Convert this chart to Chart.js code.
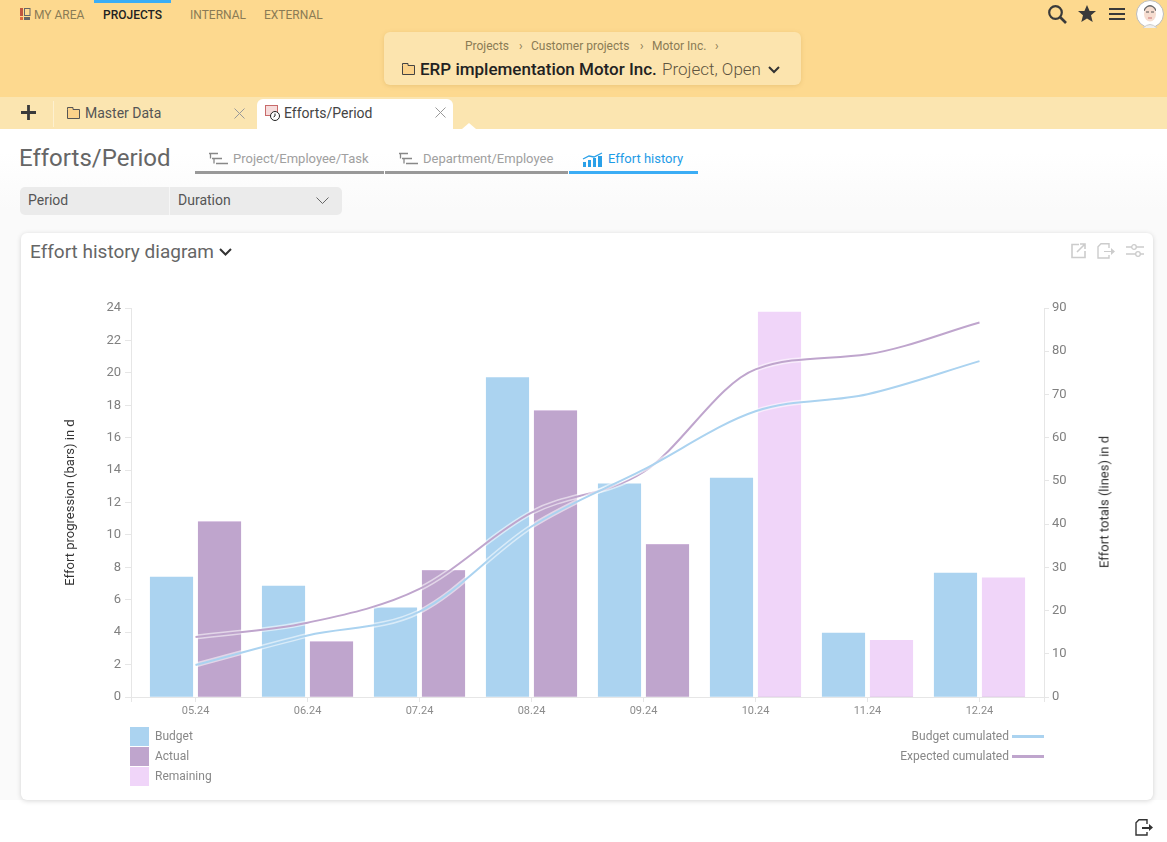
<!DOCTYPE html>
<html><head><meta charset="utf-8"><title>Effort history diagram</title>
<script src="https://cdn.jsdelivr.net/npm/chart.js@4"></script>
<style>
html,body{margin:0;padding:0;width:1167px;height:842px;overflow:hidden;background:#fff;font-family:Roboto,sans-serif}
.a{position:absolute;white-space:nowrap;line-height:1}
svg.a{overflow:visible}
</style></head><body>
<div class="a" style="left:0;top:0;width:1167px;height:97px;background:#fdd98f"></div>
<div class="a" style="left:94px;top:0;width:77px;height:3px;background:#3badf5"></div>
<svg class="a" style="left:20px;top:8px" width="11" height="12"><rect x="0" y="0" width="3" height="8" fill="#c0563f"/><rect x="0" y="9" width="3" height="3" fill="#e06a3c"/><rect x="4.5" y="0.5" width="5.5" height="7" fill="none" stroke="#666"/><rect x="4" y="9" width="6" height="3" fill="#666"/></svg>
<div class="a" style="left:34px;top:9px;font-size:12px;color:#8a7b55">MY AREA</div>
<div class="a" style="left:103px;top:9px;font-size:12px;font-weight:500;color:#222">PROJECTS</div>
<div class="a" style="left:190px;top:9px;font-size:12px;color:#8a7b55">INTERNAL</div>
<div class="a" style="left:264px;top:9px;font-size:12px;color:#8a7b55">EXTERNAL</div>
<svg class="a" style="left:1048px;top:5px" width="19" height="19"><circle cx="7.5" cy="7.5" r="6.3" fill="none" stroke="#3a3a3a" stroke-width="2.2"/><path d="M12 12l6 6" stroke="#3a3a3a" stroke-width="2.6"/></svg>
<svg class="a" style="left:1078px;top:5px" width="18" height="18"><path d="M9 0l2.6 6H18l-5 4.3 1.7 6.7L9 13.4 3.300 17 5 10.300 0 6h6.400z" fill="#3a3a3a"/></svg>
<svg class="a" style="left:1109px;top:7px" width="16" height="14"><path d="M0 2h16M0 7h16M0 12h16" stroke="#3a3a3a" stroke-width="2.200"/></svg>
<svg class="a" style="left:1136px;top:0" width="28" height="28"><circle cx="14" cy="14" r="13.500" fill="#fff" stroke="#bbb"/><path d="M8 9q6-8 12 0v2H8z" fill="#6a6a6a"/><ellipse cx="14" cy="14" rx="6" ry="7.500" fill="#f6ddd0"/><path d="M10 12h3M15 12h3" stroke="#555"/><path d="M12 18h4" stroke="#c77"/><path d="M7 28q7-7 14 0" fill="#eee" stroke="#ccc"/></svg>

<div class="a" style="left:384px;top:32px;width:417px;height:53px;background:#fce4ae;border-radius:6px;box-shadow:0 1px 4px rgba(180,140,60,.25)"></div>
<div class="a" style="left:465px;top:40px;font-size:12px;color:#8a7b55">Projects</div>
<div class="a" style="left:519px;top:40px;font-size:12px;color:#8a7b55">›</div>
<div class="a" style="left:531px;top:40px;font-size:12px;color:#8a7b55">Customer projects</div>
<div class="a" style="left:640px;top:40px;font-size:12px;color:#8a7b55">›</div>
<div class="a" style="left:652px;top:40px;font-size:12px;color:#8a7b55">Motor Inc.</div>
<div class="a" style="left:715px;top:40px;font-size:12px;color:#8a7b55">›</div>
<svg class="a" style="left:402px;top:63px" width="13" height="12"><path d="M.5 2.500V11.500H12.500V2.500H6V.500H.5z" fill="#fbd28a" stroke="#444"/></svg>
<div class="a" style="left:420px;top:61px;font-size:17px;font-weight:500;color:#222">ERP implementation Motor Inc.</div>
<div class="a" style="left:662px;top:61px;font-size:17px;font-weight:300;color:#5f5540">Project, Open</div>
<svg class="a" style="left:768px;top:66px" width="12" height="8"><path d="M1 1l5 5 5-5" fill="none" stroke="#333" stroke-width="2"/></svg>

<div class="a" style="left:0;top:97px;width:1167px;height:32px;background:#fbe5b0"></div>
<svg class="a" style="left:21px;top:105px" width="15" height="15"><path d="M7.500 0v15M0 7.500h15" stroke="#3a3a3a" stroke-width="2.800"/></svg>
<div class="a" style="left:53px;top:101px;width:1px;height:26px;background:#fdf0cf"></div>
<svg class="a" style="left:67px;top:107px" width="13" height="12"><path d="M.5 2.500V11.500H12.500V2.500H6V.500H.5z" fill="#fbd28a" stroke="#555"/></svg>
<div class="a" style="left:85px;top:106px;font-size:14px;color:#555">Master Data</div>
<svg class="a" style="left:234px;top:108px" width="11" height="11"><path d="M.5.500l10 10M10.500.500l-10 10" stroke="#999"/></svg>
<div class="a" style="left:257px;top:99px;width:196px;height:30px;background:#fff;border-radius:6px 6px 0 0"></div>
<svg class="a" style="left:265px;top:105px" width="17" height="17"><rect x=".5" y=".5" width="12" height="10" fill="#f6dcdc" stroke="#c86a6a"/><circle cx="10" cy="11" r="4.500" fill="#fff" stroke="#222"/><path d="M10 8.500V11l-1.500 1" stroke="#222" fill="none"/></svg>
<div class="a" style="left:284px;top:106px;font-size:14px;color:#444">Efforts/Period</div>
<svg class="a" style="left:435px;top:107px" width="11" height="11"><path d="M.5.500l10 10M10.500.500l-10 10" stroke="#999"/></svg>
<svg class="a" style="left:462px;top:123px" width="14" height="6"><path d="M0 6l7-6 7 6z" fill="#fff"/></svg>

<div class="a" style="left:0;top:129px;width:1167px;height:80px;background:linear-gradient(#fff 30%,#fafafa)"></div>
<div class="a" style="left:0;top:209px;width:1167px;height:591px;background:#fafafa"></div>
<div class="a" style="left:19px;top:146px;font-size:24px;color:#666">Efforts/Period</div>
<svg class="a" style="left:209px;top:152px" width="19" height="14"><path d="M0 1.500h9M3 6.500h10M7 11.500h12M1.500 1.500v5M5 6.500v5" stroke="#888" stroke-width="1.300" fill="none"/></svg>
<div class="a" style="left:233px;top:152px;font-size:13px;color:#a0a0a0">Project/Employee/Task</div>
<div class="a" style="left:195px;top:171px;width:189px;height:3px;background:#999"></div>
<svg class="a" style="left:399px;top:152px" width="19" height="14"><path d="M0 1.500h9M3 6.500h10M7 11.500h12M1.500 1.500v5M5 6.500v5" stroke="#888" stroke-width="1.300" fill="none"/></svg>
<div class="a" style="left:423px;top:152px;font-size:13px;color:#a0a0a0">Department/Employee</div>
<div class="a" style="left:385px;top:171px;width:183px;height:3px;background:#999"></div>
<svg class="a" style="left:582px;top:152px" width="22" height="15"><path d="M1 15v-5h3v5zM6 15V8h3v7zM11 15V6h3v9zM16 15V4h4v11z" fill="#2aa0e8"/><path d="M1 7l6-3 5 1 8-4" stroke="#2aa0e8" fill="none" stroke-width="1.300"/></svg>
<div class="a" style="left:608px;top:152px;font-size:13px;color:#1e9be6">Effort history</div>
<div class="a" style="left:569px;top:171px;width:129px;height:3px;background:#3badf5"></div>

<div class="a" style="left:20px;top:187px;width:322px;height:28px;background:#ebebeb;border-radius:5px"></div>
<div class="a" style="left:169px;top:187px;width:1px;height:28px;background:#f6f6f6"></div>
<div class="a" style="left:28px;top:193px;font-size:14px;color:#555">Period</div>
<div class="a" style="left:178px;top:193px;font-size:14px;color:#555">Duration</div>
<svg class="a" style="left:316px;top:197px" width="13" height="8"><path d="M.5.500l6 6 6-6" fill="none" stroke="#666"/></svg>

<div class="a" style="left:21px;top:233px;width:1132px;height:567px;background:#fff;border-radius:6px;box-shadow:0 1px 5px rgba(0,0,0,.16)"></div>
<div class="a" style="left:30px;top:242px;font-size:19px;color:#666">Effort history diagram</div>
<svg class="a" style="left:219px;top:248px" width="13" height="8"><path d="M1 1l5.500 5.500L12 1" fill="none" stroke="#333" stroke-width="2"/></svg>
<svg class="a" style="left:1071px;top:243px" width="15" height="15"><path d="M8 1.500H1v13h13V8M6 9l8-8M9 1h5v5" fill="none" stroke="#ccc" stroke-width="1.600"/></svg>
<svg class="a" style="left:1097px;top:243px" width="18" height="16"><path d="M12 5V.800H4L1 3.800V15h11v-3" fill="none" stroke="#ccc" stroke-width="1.400"/><path d="M7 8h7V5l4 3.500-4 3.500V9H7z" fill="#ccc"/></svg>
<svg class="a" style="left:1126px;top:243px" width="18" height="15"><path d="M0 4h6M10 4h8M0 11h10M14 11h4" stroke="#ccc" stroke-width="1.400"/><circle cx="8" cy="4" r="2.300" fill="none" stroke="#ccc" stroke-width="1.300"/><circle cx="12" cy="11" r="2.300" fill="none" stroke="#ccc" stroke-width="1.300"/></svg>
<svg class="a" style="left:1135px;top:819px" width="18" height="17"><path d="M12 5V.800H4L1 3.800V16h11v-3" fill="none" stroke="#333" stroke-width="1.400"/><path d="M7 8h7V5l4 3.500-4 3.500V10H7z" fill="#333"/></svg>

<canvas id="c" class="a" style="left:21px;top:271px" width="1132" height="460"></canvas>
<div class="a" style="left:1104px;top:502px;font-size:13px;color:#333;transform:translate(-50%,-50%) rotate(-90deg)">Effort totals (lines) in d</div>
<div id="legend"></div>
<script>
const categories=["05.24","06.24","07.24","08.24","09.24","10.24","11.24","12.24"];
const budget=[7.4,6.85,5.5,19.7,13.15,13.5,3.95,7.65];
const actual=[10.8,3.4,7.8,17.65,9.4,0,0,0];
const remaining=[0,0,0,0,0,23.75,3.5,7.35];
const budgetCumulated=[7.4,14.25,19.75,39.45,52.6,66.1,70.05,77.7];
const expectedCumulated=[13.9,17.2,25,42.65,52.05,75.8,79.3,86.65];
const leftTicks=[0,2,4,6,8,10,12,14,16,18,20,22,24];
const rightTicks=[0,10,20,30,40,50,60,70,80,90];
const colBudget="#abd3f0",colActual="#bfa5cd",colRemaining="#f0d5f9";
const barLegend=[["Budget",colBudget],["Actual",colActual],["Remaining",colRemaining]];
const lineLegend=[["Budget cumulated",colBudget],["Expected cumulated",colActual]];

const pts=a=>a.map((v,i)=>({x:i,y:v}));
const barBase={type:"bar",yAxisID:"y",order:2,barThickness:48,maxBarThickness:42.5,borderWidth:0};
const lineBase={type:"line",yAxisID:"y1",order:1,borderWidth:2,pointRadius:0,cubicInterpolationMode:"monotone",fill:false};
const halo={id:"halo",beforeDatasetDraw(chart,args){
  const m=args.meta; if(m.type!=="line")return;
  const ctx=chart.ctx;ctx.save();ctx.beginPath();
  m.dataset.path(ctx);ctx.lineWidth=5;ctx.strokeStyle="rgba(255,255,255,.55)";ctx.stroke();ctx.restore();
}};
const font=s=>({family:"Roboto",size:s});
const tickLine="#e6e6e6";
new Chart(document.getElementById("c"),{
  data:{datasets:[
    {...lineBase,label:"Budget cumulated",data:pts(budgetCumulated),borderColor:colBudget},
    {...lineBase,label:"Expected cumulated",data:pts(expectedCumulated),borderColor:colActual},
    {...barBase,label:"Budget",stack:"a",data:pts(budget),backgroundColor:colBudget},
    {...barBase,label:"Actual",stack:"b",data:pts(actual),backgroundColor:colActual},
    {...barBase,label:"Remaining",stack:"b",data:pts(remaining),backgroundColor:colRemaining}
  ]},
  plugins:[halo],
  options:{
    responsive:false,animation:false,devicePixelRatio:1,
    layout:{padding:{top:37,left:0,right:0,bottom:0}},
    plugins:{legend:{display:false},title:{display:false},tooltip:{enabled:false}},
    scales:{
      x:{type:"linear",stacked:true,offset:false,min:-0.576,max:7.576,
        afterBuildTicks(s){s.ticks=[s.min,...categories.map((_,i)=>i),s.max].map(v=>({value:v}));},
        afterFit(s){s.height=34;s.paddingLeft=0;s.paddingRight=0;},
        grid:{offset:false,drawOnChartArea:false,drawTicks:true,tickLength:5,color:tickLine},
        border:{color:tickLine,width:1},
        ticks:{autoSkip:false,maxRotation:0,padding:3,font:font(11),color:"#8c8c8c",callback:v=>categories[v]??""}},
      y:{position:"left",stacked:true,min:0,max:24,
        afterBuildTicks(s){s.ticks=leftTicks.map(v=>({value:v}));},
        afterFit(s){s.width=110;s.paddingTop=0;s.paddingBottom=0;},
        grid:{drawOnChartArea:false,tickLength:6,color:tickLine},border:{color:tickLine},
        title:{display:true,text:"Effort progression (bars) in d",color:"#333",font:font(13),padding:{top:42,bottom:0}},
        ticks:{padding:4,font:font(13),color:"#808080"}},
      y1:{position:"right",min:0,max:90,
        afterBuildTicks(s){s.ticks=rightTicks.map(v=>({value:v}));},
        afterFit(s){s.width=109;s.paddingTop=0;s.paddingBottom=0;},
        grid:{drawOnChartArea:false,tickLength:5,color:tickLine},border:{color:tickLine},
        ticks:{padding:3,font:font(13),color:"#808080"}}
    }
  }
});
const lg=document.getElementById("legend");
barLegend.forEach(([t,c],i)=>{
  lg.insertAdjacentHTML("beforeend",`<div class="a" style="left:130px;top:${727+20*i}px;width:19px;height:19px;background:${c}"></div><div class="a" style="left:155px;top:${730+20*i}px;font-size:12px;color:#888">${t}</div>`);
});
lineLegend.forEach(([t,c],i)=>{
  lg.insertAdjacentHTML("beforeend",`<div class="a" style="right:158px;top:${730+20*i}px;font-size:12px;color:#888">${t}</div><div class="a" style="left:1012px;top:${735+20*i}px;width:32px;height:3px;background:${c}"></div>`);
});
</script></body></html>
